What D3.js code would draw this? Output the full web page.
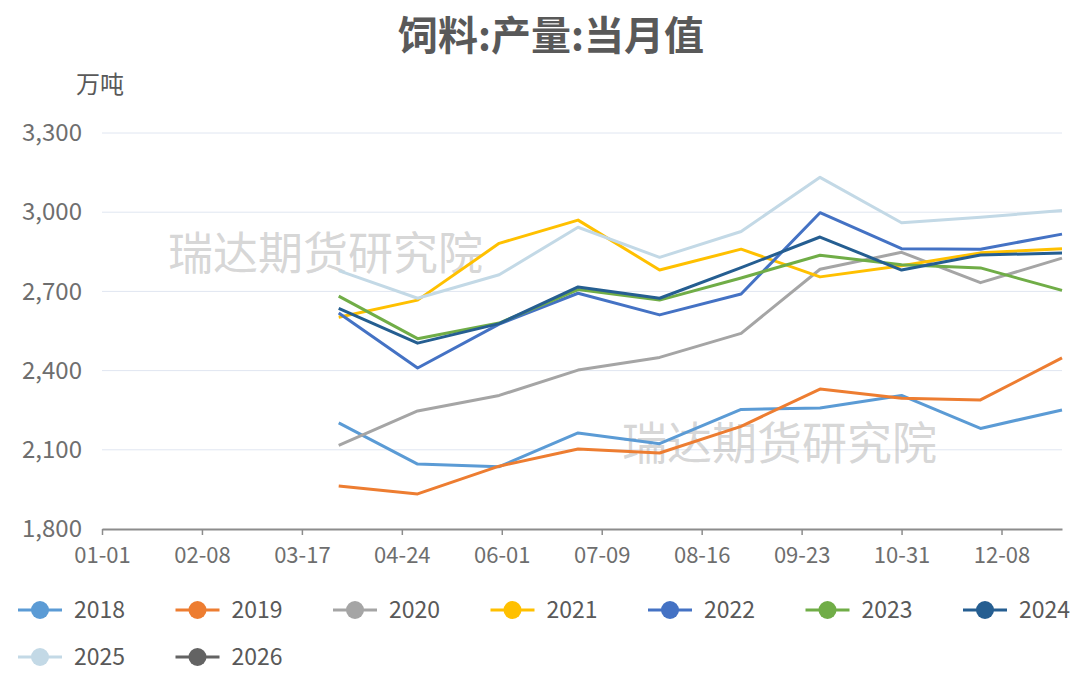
<!DOCTYPE html>
<html>
<head>
<meta charset="utf-8">
<script src="https://cdn.jsdelivr.net/npm/d3@7"></script>
<style>
  html, body { margin: 0; padding: 0; background: #fff; }
  svg { display: block; font-family: "Noto Sans CJK SC", "Noto Sans", sans-serif; }
</style>
</head>
<body>
<svg id="chart"></svg>
<script>
// 饲料:产量:当月值 — seasonal chart, one line per year

const W = 1092, H = 674;
const M = { top: 133, right: 30, bottom: 145, left: 102 };

const title = "饲料:产量:当月值";
const unit = "万吨";
const watermark = "瑞达期货研究院";

// month-end dates (mapped onto one leap year so 02-29 fits)
const dates = ["03-31", "04-30", "05-31", "06-30", "07-31", "08-31", "09-30", "10-31", "11-30", "12-31"];
const xTickLabels = ["01-01", "02-08", "03-17", "04-24", "06-01", "07-09", "08-16", "09-23", "10-31", "12-08"];
const yTicks = [1800, 2100, 2400, 2700, 3000, 3300];

const years = ["2018", "2019", "2020", "2021", "2022", "2023", "2024", "2025", "2026"];
const colors = ["#5b9bd5", "#ed7d31", "#a5a5a5", "#ffc000", "#4472c4", "#70ad47", "#255e91", "#c3d9e6", "#636363"];

const v2018 = [2202, 2046, 2036, 2164, 2123, 2253, 2258, 2306, 2181, 2251];
const v2019 = [1963, 1933, 2038, 2103, 2088, 2189, 2330, 2295, 2289, 2448];
const v2020 = [2117, 2247, 2306, 2402, 2450, 2541, 2784, 2848, 2733, 2826];
const v2021 = [2602, 2667, 2882, 2970, 2781, 2860, 2755, 2797, 2846, 2862];
const v2022 = [2618, 2410, 2576, 2693, 2611, 2690, 2998, 2862, 2860, 2917];
const v2023 = [2682, 2521, 2580, 2707, 2667, 2751, 2837, 2801, 2789, 2704];
const v2024 = [2636, 2504, 2578, 2717, 2674, 2790, 2906, 2781, 2838, 2845];
const v2025 = [2779, 2674, 2763, 2943, 2829, 2927, 3132, 2960, 2981, 3006];
const v2026 = [];

const seriesValues = [v2018, v2019, v2020, v2021, v2022, v2023, v2024, v2025, v2026];

const parse = d3.timeParse("%Y-%m-%d");
const toDate = s => parse("2024-" + s);

const series = years.map((y, i) => ({
  name: y,
  color: colors[i],
  values: seriesValues[i].map((v, j) => ({ date: toDate(dates[j]), value: v }))
}));

const svg = d3.select("#chart").attr("width", W).attr("height", H);

const x = d3.scaleTime()
  .domain([toDate("01-01"), toDate("12-31")])
  .range([M.left, W - M.right]);

const y = d3.scaleLinear()
  .domain([1800, 3300])
  .range([H - M.bottom, M.top]);

// Title
svg.append("text")
  .attr("x", 551).attr("y", 50)
  .attr("text-anchor", "middle")
  .attr("fill", "#595959")
  .attr("font-size", 40)
  .attr("font-weight", 700)
  .text(title);

// Unit
svg.append("text")
  .attr("x", 100).attr("y", 93)
  .attr("text-anchor", "middle")
  .attr("fill", "#595959")
  .attr("font-size", 24)
  .text(unit);

// Gridlines
svg.append("g")
  .selectAll("line")
  .data(yTicks.filter(d => d !== 1800))
  .join("line")
  .attr("x1", M.left).attr("x2", W - M.right)
  .attr("y1", d => y(d)).attr("y2", d => y(d))
  .attr("stroke", "#e0e6f1").attr("stroke-width", 1);

// Y axis labels
const yAxis = svg.append("g")
  .attr("transform", `translate(${M.left},0)`)
  .call(d3.axisLeft(y).tickValues(yTicks).tickSize(0).tickPadding(20)
    .tickFormat(d3.format(",")));
yAxis.select(".domain").remove();
yAxis.selectAll("text")
  .attr("fill", "#6e6e6e")
  .attr("font-size", 24)
  .attr("font-family", "\"Noto Sans CJK SC\", sans-serif");

// X axis
const xAxis = svg.append("g")
  .attr("transform", `translate(0,${y(1800)})`)
  .call(d3.axisBottom(x)
    .tickValues(xTickLabels.map(toDate))
    .tickSize(6).tickSizeOuter(0).tickPadding(12)
    .tickFormat(d3.timeFormat("%m-%d")));
xAxis.select(".domain").attr("stroke", "#8c8c8c").attr("stroke-width", 2);
xAxis.selectAll(".tick line").attr("stroke", "#8c8c8c").attr("stroke-width", 1.5);
xAxis.selectAll("text")
  .attr("fill", "#6e6e6e")
  .attr("font-size", 22)
  .attr("font-family", "\"Noto Sans CJK SC\", sans-serif");

// Watermarks
[[168, 270], [622, 460]].forEach(([wx, wy]) => {
  svg.append("text")
    .attr("x", wx).attr("y", wy)
    .attr("fill", "#b4b4b4").attr("fill-opacity", 0.55)
    .attr("font-size", 45)
    .text(watermark);
});

// Lines
const line = d3.line()
  .x(d => x(d.date)).y(d => y(d.value));

svg.append("g")
  .selectAll("path")
  .data(series.filter(s => s.values.length))
  .join("path")
  .attr("fill", "none")
  .attr("stroke", d => d.color)
  .attr("stroke-width", 3)
  .attr("stroke-linejoin", "round")
  .attr("d", d => line(d.values));

// Legend
const perRow = 7, colW = 157.5;
const legend = svg.append("g")
  .selectAll("g")
  .data(series)
  .join("g")
  .attr("transform", (d, i) =>
    `translate(${18 + (i % perRow) * colW},${610 + Math.floor(i / perRow) * 47})`);

legend.append("line")
  .attr("x1", 0).attr("x2", 44)
  .attr("stroke", d => d.color).attr("stroke-width", 3);
legend.append("circle")
  .attr("cx", 22).attr("r", 9)
  .attr("fill", d => d.color);
legend.append("text")
  .attr("x", 56).attr("dy", "0.35em")
  .attr("fill", "#595959")
  .attr("font-size", 23)
  .text(d => d.name);
</script>
</body>
</html>
